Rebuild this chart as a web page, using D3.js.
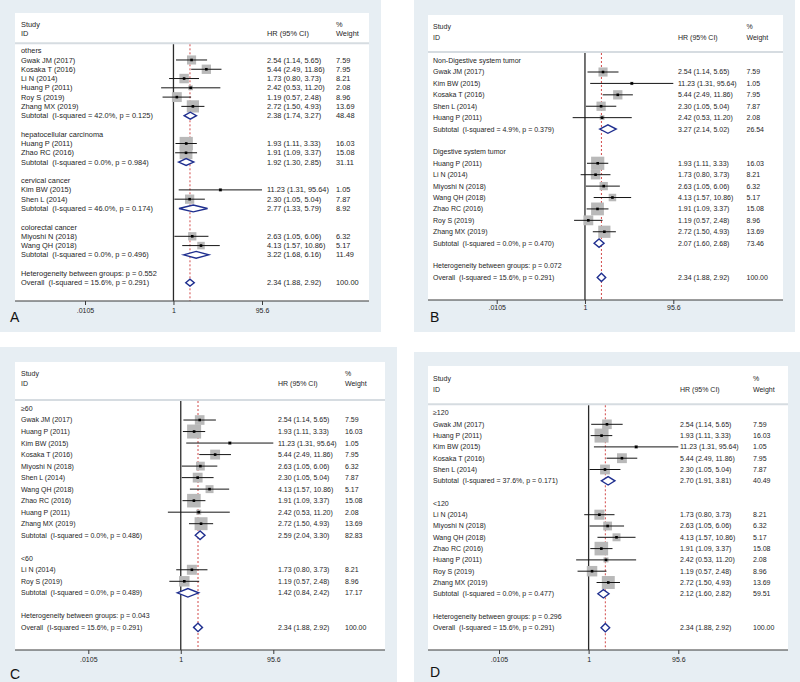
<!DOCTYPE html>
<html><head><meta charset="utf-8">
<script src="https://cdn.jsdelivr.net/npm/d3@7"></script>
<style>
body{margin:0;background:#fff}
svg{display:block;font-family:"Liberation Sans",Arial,Helvetica,sans-serif}
text{white-space:pre}
</style>
</head><body>
<svg id="chart" width="800" height="682"></svg>
<script>
// ---- study-level data (HR, 95% CI, % weight) ----
const studyLabel  = ["Gwak JM (2017)","Kosaka T (2016)","Li N (2014)","Huang P (2011)","Roy S (2019)","Zhang MX (2019)","Huang P (2011)","Zhao RC (2016)","Kim BW (2015)","Shen L (2014)","Miyoshi N (2018)","Wang QH (2018)"];
const studyHR     = [2.54, 5.44, 1.73, 2.42, 1.19, 2.72, 1.93, 1.91, 11.23, 2.30, 2.63, 4.13];
const studyLo     = [1.14, 2.49, 0.80, 0.53, 0.57, 1.50, 1.11, 1.09, 1.31, 1.05, 1.05, 1.57];
const studyHi     = [5.65, 11.86, 3.73, 11.20, 2.48, 4.93, 3.33, 3.37, 95.64, 5.04, 6.06, 10.86];
const studyWeight = [7.59, 7.95, 8.21, 2.08, 8.96, 13.69, 16.03, 15.08, 1.05, 7.87, 6.32, 5.17];

// ---- overall ----
const overallHR = 2.34, overallLo = 1.88, overallHi = 2.92, overallW = 100.00;
const overallI2 = "15.6%", overallP = "0.291";

// ---- axis ----
const tickValues = [0.0105, 1, 95.6];
const tickLabels = [".0105", "1", "95.6"];

// ---- Panel A: tumour type ----
const groupNamesA   = ["others", "hepatocellular carcinoma", "cervical cancer", "colorectal cancer"];
const groupMembersA = [[0,1,2,3,4,5], [6,7], [8,9], [10,11]];
const subHRA = [2.38, 1.92, 2.77, 3.22];
const subLoA = [1.74, 1.30, 1.33, 1.68];
const subHiA = [3.27, 2.85, 5.79, 6.16];
const subWA  = [48.48, 31.11, 8.92, 11.49];
const subI2A = ["42.0%", "0.0%", "46.0%", "0.0%"];
const subPA  = ["0.125", "0.984", "0.174", "0.496"];
const hetPA  = "0.552";

// ---- Panel B: digestive vs non-digestive ----
const groupNamesB   = ["Non-Digestive system tumor", "Digestive system tumor"];
const groupMembersB = [[0,8,1,9,3], [6,2,10,11,7,4,5]];
const subHRB = [3.27, 2.07];
const subLoB = [2.14, 1.60];
const subHiB = [5.02, 2.68];
const subWB  = [26.54, 73.46];
const subI2B = ["4.9%", "0.0%"];
const subPB  = ["0.379", "0.470"];
const hetPB  = "0.072";

// ---- Panel C: age ----
const groupNamesC   = ["\u226560", "<60"];
const groupMembersC = [[0,6,8,1,10,9,11,7,3,5], [2,4]];
const subHRC = [2.59, 1.42];
const subLoC = [2.04, 0.84];
const subHiC = [3.30, 2.42];
const subWC  = [82.83, 17.17];
const subI2C = ["0.0%", "0.0%"];
const subPC  = ["0.486", "0.489"];
const hetPC  = "0.043";

// ---- Panel D: sample size ----
const groupNamesD   = ["\u2265120", "<120"];
const groupMembersD = [[0,6,8,1,9], [2,10,11,7,3,4,5]];
const subHRD = [2.70, 2.12];
const subLoD = [1.91, 1.60];
const subHiD = [3.81, 2.82];
const subWD  = [40.49, 59.51];
const subI2D = ["37.6%", "0.0%"];
const subPD  = ["0.171", "0.477"];
const hetPD  = "0.296";

// ---- layout (pixels) ----
const panels = [
  {letter:"A", outer:[0,0,381,332], inner:[15,13,369,301], hdr:[24,33.3,43.3], row0:50.7, dy:9.28,
   r:[85,262], labelX:21, hrX:267, wX:336, fs:7.4, k:3.3, tickPad:3, letterXY:[10,322],
   g:{names:groupNamesA, mem:groupMembersA, hr:subHRA, lo:subLoA, hi:subHiA, w:subWA, i2:subI2A, p:subPA, het:hetPA}},
  {letter:"B", outer:[414,0,795,332], inner:[428,15,783,300], hdr:[27,38,52], row0:60.6, dy:11.41,
   r:[496.7,673.3], labelX:433, hrX:678, wX:746.5, fs:7.0, k:3.3, tickPad:1, letterXY:[430,322],
   g:{names:groupNamesB, mem:groupMembersB, hr:subHRB, lo:subLoB, hi:subHiB, w:subWB, i2:subI2B, p:subPB, het:hetPB}},
  {letter:"C", outer:[0,347,397,682], inner:[15,362,385,650], hdr:[373.3,383.3,400], row0:408.5, dy:11.52,
   r:[88.3,273.3], labelX:21, hrX:278, wX:345, fs:7.0, k:3.5, tickPad:3, letterXY:[10,679],
   g:{names:groupNamesC, mem:groupMembersC, hr:subHRC, lo:subLoC, hi:subHiC, w:subWC, i2:subI2C, p:subPC, het:hetPC}},
  {letter:"D", outer:[414,352,800,682], inner:[428,366,788,650], hdr:[379,389.3,404.3], row0:413, dy:11.3,
   r:[499,678.3], labelX:433, hrX:680, wX:753, fs:7.0, k:3.5, tickPad:3, letterXY:[430,677],
   g:{names:groupNamesD, mem:groupMembersD, hr:subHRD, lo:subLoD, hi:subHiD, w:subWD, i2:subI2D, p:subPD, het:hetPD}}
];

const svg = d3.select("#chart");
const fmt = v => v.toFixed(2);
const ciText = (h,l,u) => `${fmt(h)} (${fmt(l)}, ${fmt(u)})`;
const TXT = "#1e1e1e", BOX = "#b9b9b9", DIA = "#1f2f8f";

panels.forEach(P => {
  const G = svg.append("g");
  const [ox0,oy0,ox1,oy1] = P.outer, [ix0,iy0,ix1,iy1] = P.inner;
  G.append("rect").attr("x",ox0).attr("y",oy0).attr("width",ox1-ox0).attr("height",oy1-oy0).attr("fill","#e7eef3");
  G.append("rect").attr("x",ix0).attr("y",iy0).attr("width",ix1-ix0).attr("height",iy1-iy0).attr("fill","#ffffff");

  const x = d3.scaleLog().domain([tickValues[0], tickValues[2]]).range(P.r);

  // build rows
  const rows = [];
  P.g.names.forEach((name, gi) => {
    rows.push({type:"group", label:name});
    P.g.mem[gi].forEach(si => rows.push({type:"study", si}));
    rows.push({type:"sub", gi});
    rows.push({type:"blank"});
  });
  rows.push({type:"het"});
  rows.push({type:"overall"});
  const y = i => P.row0 + i * P.dy;

  const txt = (xx, yy, s, anchor) => G.append("text").attr("x",xx).attr("y",yy).attr("dy","0.35em")
      .attr("font-size",P.fs).attr("fill",TXT).attr("text-anchor",anchor||"start").text(s);

  // header
  txt(P.labelX, P.hdr[0], "Study");
  txt(P.labelX, P.hdr[1], "ID");
  txt(P.hrX, P.hdr[1], "HR (95% CI)");
  txt(P.wX, P.hdr[0], "%");
  txt(P.wX, P.hdr[1], "Weight");
  G.append("line").attr("x1",ix0).attr("x2",ix1).attr("y1",P.hdr[2]).attr("y2",P.hdr[2])
    .attr("stroke","#d6dce1").attr("stroke-width",2);

  // null line and overall dashed line
  G.append("line").attr("x1",x(1)).attr("x2",x(1)).attr("y1",P.hdr[2]+1).attr("y2",iy1)
    .attr("stroke","#2a2a2a").attr("stroke-width",1.3);
  G.append("line").attr("x1",x(overallHR)).attr("x2",x(overallHR)).attr("y1",P.hdr[2]+1).attr("y2",iy1)
    .attr("stroke","#d24a4a").attr("stroke-width",1).attr("stroke-dasharray","2,2");

  const diamond = (h,l,u,yy) => {
    const hh = P.dy * 0.37;
    G.append("path").attr("d",`M${x(l)},${yy}L${x(h)},${yy-hh}L${x(u)},${yy}L${x(h)},${yy+hh}Z`)
      .attr("fill","#ffffff").attr("stroke",DIA).attr("stroke-width",1.4);
  };

  // boxes first
  rows.forEach((r,i) => {
    if (r.type !== "study") return;
    const s = P.k * Math.sqrt(studyWeight[r.si]);
    G.append("rect").attr("x",x(studyHR[r.si])-s/2).attr("y",y(i)-s/2).attr("width",s).attr("height",s)
      .attr("fill",BOX);
  });

  rows.forEach((r,i) => {
    const yy = y(i);
    if (r.type === "group") {
      txt(P.labelX, yy, r.label);
    } else if (r.type === "study") {
      const si = r.si;
      G.append("line").attr("x1",x(studyLo[si])).attr("x2",x(studyHi[si])).attr("y1",yy).attr("y2",yy)
        .attr("stroke","#151515").attr("stroke-width",1);
      G.append("rect").attr("x",x(studyHR[si])-1.3).attr("y",yy-1.3).attr("width",2.6).attr("height",2.6).attr("fill","#000");
      txt(P.labelX, yy, studyLabel[si]);
      txt(P.hrX, yy, ciText(studyHR[si], studyLo[si], studyHi[si]));
      txt(P.wX, yy, fmt(studyWeight[si]));
    } else if (r.type === "sub") {
      const gi = r.gi;
      diamond(P.g.hr[gi], P.g.lo[gi], P.g.hi[gi], yy);
      txt(P.labelX, yy, `Subtotal  (I-squared = ${P.g.i2[gi]}, p = ${P.g.p[gi]})`);
      txt(P.hrX, yy, ciText(P.g.hr[gi], P.g.lo[gi], P.g.hi[gi]));
      txt(P.wX, yy, fmt(P.g.w[gi]));
    } else if (r.type === "het") {
      txt(P.labelX, yy, `Heterogeneity between groups: p = ${P.g.het}`);
    } else if (r.type === "overall") {
      diamond(overallHR, overallLo, overallHi, yy);
      txt(P.labelX, yy, `Overall  (I-squared = ${overallI2}, p = ${overallP})`);
      txt(P.hrX, yy, ciText(overallHR, overallLo, overallHi));
      txt(P.wX, yy, fmt(overallW));
    }
  });

  // x axis
  G.append("line").attr("x1",ix0).attr("x2",ix1).attr("y1",iy1).attr("y2",iy1)
    .attr("stroke","#3a3a3a").attr("stroke-width",1.2);
  const ax = G.append("g").attr("transform",`translate(0,${iy1})`)
    .call(d3.axisBottom(x).tickValues(tickValues).tickFormat((d,i)=>tickLabels[i]).tickSize(4).tickPadding(P.tickPad));
  ax.select(".domain").remove();
  ax.selectAll("line").attr("stroke","#3a3a3a");
  ax.selectAll("text").attr("font-size",7).attr("fill",TXT).attr("font-family",'"Liberation Sans",Arial,sans-serif');

  G.append("text").attr("x",P.letterXY[0]).attr("y",P.letterXY[1]).attr("font-size",14).attr("fill","#111").text(P.letter);
});
</script>
</body></html>
